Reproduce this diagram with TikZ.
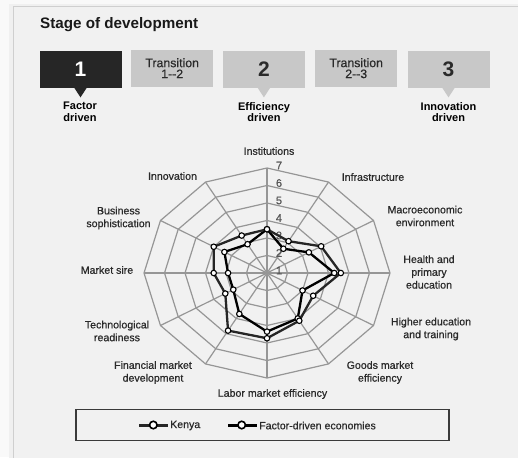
\documentclass[tikz,border=0pt]{standalone}
\usepackage{fontspec}
\setmainfont{Liberation Sans}
\newfontfamily\lblfont[FakeBold=0.6]{Liberation Sans}
\usetikzlibrary{calc}
\definecolor{outerbg}{HTML}{F9F9F9}
\definecolor{panelbg}{HTML}{F1F1F1}
\definecolor{panelline}{HTML}{CFCFCF}
\definecolor{boxblack}{HTML}{262626}
\definecolor{boxgrey}{HTML}{C8C8C8}
\definecolor{txtdark}{HTML}{2A2A2A}
\definecolor{gridgrey}{HTML}{969696}
\definecolor{legendline}{HTML}{3A3A3A}
\begin{document}
\begin{tikzpicture}[x=1pt,y=-1pt,
  stagebox/.style={fill=boxgrey, minimum width=82pt, minimum height=37pt, inner sep=0pt, anchor=north west, align=center, text=txtdark, font=\lblfont\fontsize{12.3}{12.5}\selectfont},
  stagelabel/.style={align=center, font=\fontsize{11}{11.5}\selectfont\bfseries, text=black},
  axlabel/.style={align=center, font=\lblfont\fontsize{10.6}{12.8}\selectfont, text=txtdark, inner sep=0pt},
  scalelabel/.style={font=\lblfont\fontsize{11}{11}\selectfont, text=txtdark!80, inner sep=0pt},
  gridline/.style={draw=gridgrey, line width=1.2pt},
  series/.style={draw=black, line width=2.3pt, line join=round},
  kseries/.style={draw=black!85, line width=2.3pt, line join=round},
  marker/.style={circle, draw=black, fill=white, line width=1.1pt, inner sep=0pt, minimum size=5.5pt}
]
\useasboundingbox (0,0) rectangle (518,457);
\clip (0,0) rectangle (518,457);
\fill[outerbg] (0,0) rectangle (518,457);
\fill[black!6] (9,4) rectangle (530,470);
\filldraw[fill=panelbg, draw=panelline, line width=0.8pt] (13,6) rectangle (530,470);

% title
\node[anchor=west, inner sep=0pt, font=\fontsize{15.2}{16}\selectfont\bfseries, text=black!90] (title) at (40,24.5) {Stage of development};

% stage boxes
\node[stagebox, fill=boxblack, text=white, font=\fontsize{21}{22}\selectfont\bfseries] (s1) at (39.3,50.5) {1};
\node[stagebox] (t12) at (131,49.5) {Transition\\[-1.5pt]1--2};
\node[stagebox, font=\fontsize{21}{22}\selectfont\bfseries] (s2) at (222.7,50.5) {2};
\node[stagebox] (t23) at (315,49.5) {Transition\\[-1.5pt]2--3};
\node[stagebox, font=\fontsize{21}{22}\selectfont\bfseries] (s3) at (407.3,50.5) {3};

\fill[boxblack] ($(s1.south)+(-6.5,-0.5)$) -- ($(s1.south)+(6.5,-0.5)$) -- ($(s1.south)+(0,9.5)$) -- cycle;
\fill[boxgrey] ($(s2.south)+(-6.5,-0.5)$) -- ($(s2.south)+(6.5,-0.5)$) -- ($(s2.south)+(0,9.5)$) -- cycle;
\fill[boxgrey] ($(s3.south)+(-6.5,-0.5)$) -- ($(s3.south)+(6.5,-0.5)$) -- ($(s3.south)+(0,9.5)$) -- cycle;

\node[stagelabel] (l1) at (80,112) {Factor\\driven};
\node[stagelabel] (l2) at (264,112) {Efficiency\\driven};
\node[stagelabel] (l3) at (448.5,112) {Innovation\\driven};

% radar grid
\foreach \r in {1,...,6}
  \draw[gridline] plot[samples at={0,30,...,330}] ({267+\r/6*123*sin(\x)},{273-\r/6*105*cos(\x)}) -- cycle;
\foreach \a in {0,30,...,330}
  \draw[gridline] (267,273) -- ({267+123*sin(\a)},{273-105*cos(\a)});

% scale labels
\foreach \k in {1,...,7}
  \node[scalelabel] (sc\k) at (279,{273-(\k-1)*17.5-2.5}) {\k};

% axis labels
\node[axlabel] (aInst) at (269,151) {Institutions};
\node[axlabel] (aInfr) at (373,177) {Infrastructure};
\node[axlabel] (aMacro) at (425,216) {Macroeconomic\\environment};
\node[axlabel] (aHealth) at (429,272) {Health and\\primary\\education};
\node[axlabel] (aHigher) at (431,329) {Higher education\\and training};
\node[axlabel] (aGoods) at (380,372.5) {Goods market\\efficiency};
\node[axlabel] (aLabor) at (272.5,394) {Labor market efficiency};
\node[axlabel] (aFin) at (153,372.5) {Financial market\\development};
\node[axlabel] (aTech) at (117,331) {Technological\\readiness};
\node[axlabel] (aMkt) at (107,270) {Market sire};
\node[axlabel] (aBus) at (118.5,218) {Business\\sophistication};
\node[axlabel] (aInno) at (172.5,176) {Innovation};

% data: factor-driven economies
\foreach \v [count=\i from 0] in {3.5,2.6,3.36,4.28,3.0,4.0,4.35,3.7,2.9,2.9,3.4,2.9}
  \coordinate (f\i) at ({267+(\v-1)/6*123*sin(30*\i)},{273-(\v-1)/6*105*cos(30*\i)});
% data: Kenya
\foreach \v [count=\i from 0] in {3.5,3.1,4.05,4.6,3.6,4.15,4.73,4.8,3.35,3.6,4.0,3.47}
  \coordinate (k\i) at ({267+(\v-1)/6*123*sin(30*\i)},{273-(\v-1)/6*105*cos(30*\i)});

\draw[series] (f0) \foreach \i in {1,...,11}{ -- (f\i)} -- cycle;
\draw[kseries] (k0) \foreach \i in {1,...,11}{ -- (k\i)} -- cycle;
\foreach \i in {0,...,11} {
  \node[marker] (fm\i) at (f\i) {};
  \node[marker] (km\i) at (k\i) {};
}

% legend
\node[draw=legendline, line width=1.5pt, minimum width=373pt, minimum height=31pt, inner sep=0pt] (legend) at (262.7,425) {};
\coordinate (kA) at (139.3,425);
\coordinate (kB) at (168.3,425);
\draw[kseries, line width=3pt] (kA) -- (kB);
\node[marker, minimum size=7.5pt, line width=1.6pt] (kLm) at (153.3,425) {};
\node[anchor=west, axlabel] (kT) at (170,425.5) {Kenya};
\coordinate (fA) at (228.3,425);
\coordinate (fB) at (256.7,425);
\draw[series, line width=3pt] (fA) -- (fB);
\node[marker, minimum size=7.5pt, line width=1.6pt] (fLm) at (241.7,425) {};
\node[anchor=west, axlabel] (fT) at (259,425.5) {Factor-driven economies};
\end{tikzpicture}
\end{document}
